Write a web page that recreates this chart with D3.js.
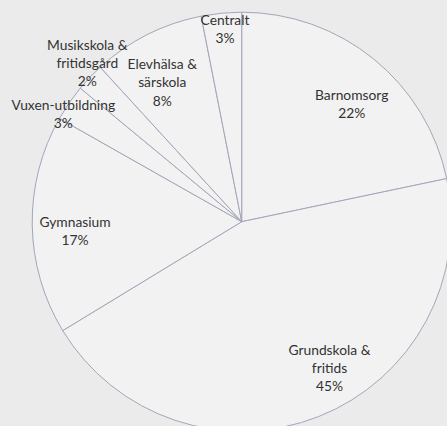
<!DOCTYPE html>
<html><head><meta charset="utf-8">
<script src="https://cdn.jsdelivr.net/npm/d3@7"></script>
<style>
html,body{margin:0;padding:0;background:#ebebeb;}
svg{display:block;}
</style></head>
<body>
<svg id="chart" width="447" height="426"></svg>
<script>
const categories = ["Barnomsorg","Grundskola & fritids","Gymnasium","Vuxen-utbildning","Musikskola & fritidsgård","Elevhälsa & särskola","Centralt"];
const values = [21.7, 44.6, 16.9, 2.8, 2.2, 8.7, 3.1];
const pctLabels = ["22%","45%","17%","3%","2%","8%","3%"];
const labelLines = [["Barnomsorg"],["Grundskola &","fritids"],["Gymnasium"],["Vuxen-utbildning"],["Musikskola &","fritidsgård"],["Elevhälsa &","särskola"],["Centralt"]];
const labelPos = [[351.7,104],[329.5,368],[75,231.5],[63.3,114.5],[87.3,63],[162.3,82.5],[225,29.5]];

const svg = d3.select("#chart");
const cx = 241.7, cy = 221.7, R = 209.5;
const g = svg.append("g").attr("transform", `translate(${cx},${cy})`);

const pie = d3.pie().sort(null).value(d => d)(values);
const arc = d3.arc().innerRadius(0).outerRadius(R);

g.selectAll("path").data(pie).join("path")
  .attr("d", arc)
  .attr("fill", "#f2f2f2")
  .attr("stroke", "#a3a6b8")
  .attr("stroke-width", 1);

const lh = 18.3;
const lab = svg.append("g")
  .attr("font-family", "Lato, 'Open Sans', sans-serif")
  .attr("font-size", "13.8px")
  .attr("fill", "#333333")
  .attr("text-anchor", "middle");

categories.forEach((c, i) => {
  const lines = labelLines[i].concat([pctLabels[i]]);
  const [x, y] = labelPos[i];
  const y0 = y - (lines.length - 1) * lh / 2;
  const t = lab.append("text").attr("x", x).attr("y", y0).attr("dy", "0.35em");
  lines.forEach((l, j) => {
    t.append("tspan").attr("x", x).attr("y", y0 + j * lh).attr("dy", "0.35em").text(l);
  });
});
</script>
</body></html>
